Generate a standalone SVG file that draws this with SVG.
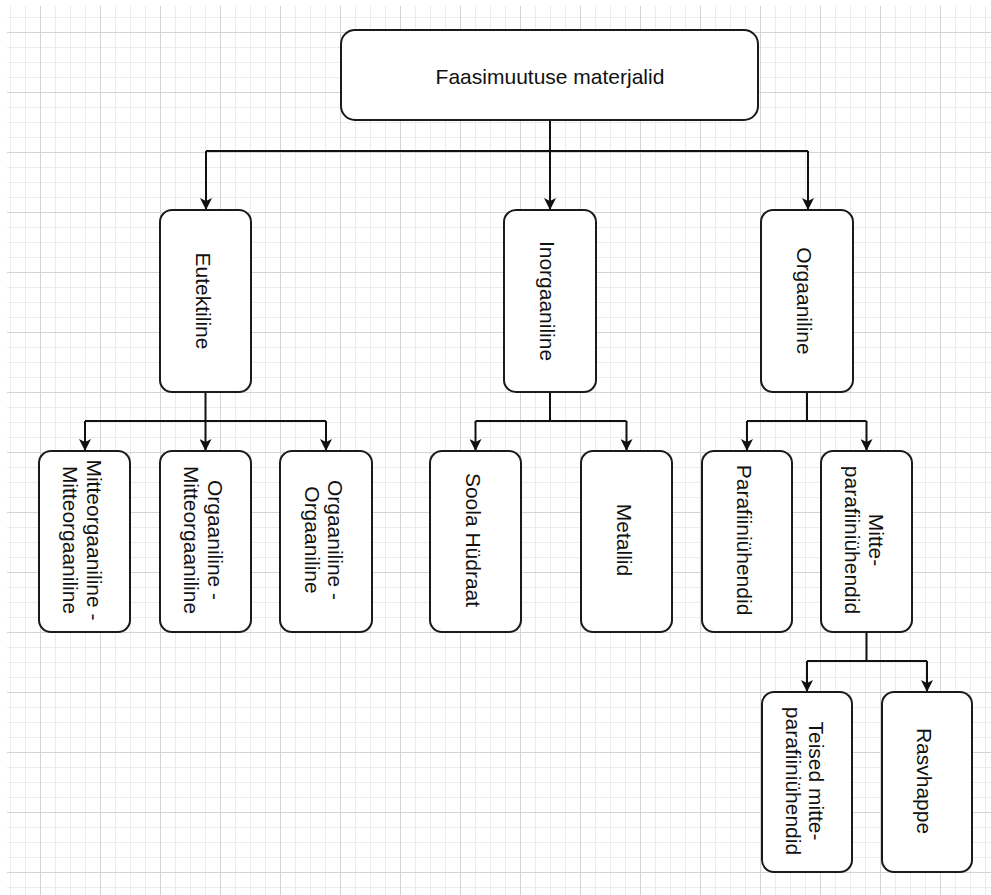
<svg xmlns="http://www.w3.org/2000/svg" width="991" height="895" viewBox="0 0 991 895">
  <defs>
    <style>
      .box { fill: #ffffff; stroke: #1a1a1a; stroke-width: 2; }
      .lbl { font-family: "Liberation Sans", Arial, sans-serif; font-size: 21px; fill: #111111; text-anchor: middle; }
      .edge { fill: none; stroke: #111111; stroke-width: 2; }
      .arr { marker-end: url(#arrow); }
    </style>
    <!-- fine grid: 15px cells -->
    <pattern id="gridMinor" patternUnits="userSpaceOnUse" x="40" y="32" width="15" height="15">
      <path d="M0 0.5H15M0.5 0V15" fill="none" stroke="#ececec" stroke-width="1"/>
    </pattern>
    <!-- coarse grid: 60px cells -->
    <pattern id="gridMajor" patternUnits="userSpaceOnUse" x="40" y="32" width="60" height="60">
      <path d="M0 0.5H60M0.5 0V60" fill="none" stroke="#d4d4d4" stroke-width="1"/>
    </pattern>
    <marker id="arrow" markerUnits="userSpaceOnUse" markerWidth="12" markerHeight="12" refX="12" refY="6" orient="auto">
      <path d="M0,0 L12,6 L0,12 L3,6 z" fill="#111111"/>
    </marker>
  </defs>

  <!-- canvas background -->
  <rect x="0" y="0" width="991" height="895" fill="#ffffff"/>
  <rect x="7" y="6" width="984" height="889" fill="url(#gridMinor)"/>
  <rect x="7" y="6" width="984" height="889" fill="url(#gridMajor)"/>

  <!-- connectors -->
  <g id="connectors">
    <!-- root to first level -->
    <path class="edge" d="M550 120V151M206 151H808"/>
    <path class="edge arr" d="M206 151V210"/>
    <path class="edge arr" d="M550 151V210"/>
    <path class="edge arr" d="M808 151V210"/>
    <!-- Eutektiline children -->
    <path class="edge" d="M205.5 392V421M85 421H326"/>
    <path class="edge arr" d="M85 421V451"/>
    <path class="edge arr" d="M205.5 421V451"/>
    <path class="edge arr" d="M326 421V451"/>
    <!-- Inorgaaniline children -->
    <path class="edge" d="M550 392V421M475.5 421H626.5"/>
    <path class="edge arr" d="M475.5 421V451"/>
    <path class="edge arr" d="M626.5 421V451"/>
    <!-- Orgaaniline children -->
    <path class="edge" d="M807 392V421M747 421H866.5"/>
    <path class="edge arr" d="M747 421V451"/>
    <path class="edge arr" d="M866.5 421V451"/>
    <!-- Mitte-parafiiniühendid children -->
    <path class="edge" d="M866.5 632V661M807 661H927"/>
    <path class="edge arr" d="M807 661V692"/>
    <path class="edge arr" d="M927 661V692"/>
  </g>

  <!-- root -->
  <g id="root">
    <rect class="box" x="341" y="30" width="417" height="90" rx="14"/>
    <text class="lbl" x="550" y="84">Faasimuutuse materjalid</text>
  </g>

  <!-- first level -->
  <g id="eutektiline">
    <rect class="box" x="160" y="210" width="91" height="182" rx="12"/>
    <text class="lbl" transform="translate(205.5 301) rotate(90)" y="10">Eutektiline</text>
  </g>
  <g id="inorgaaniline">
    <rect class="box" x="504" y="210" width="92" height="182" rx="12"/>
    <text class="lbl" transform="translate(550 301) rotate(90)" y="10">Inorgaaniline</text>
  </g>
  <g id="orgaaniline">
    <rect class="box" x="761" y="210" width="92" height="182" rx="12"/>
    <text class="lbl" transform="translate(807 301) rotate(90)" y="10">Orgaaniline</text>
  </g>

  <!-- second level -->
  <g id="mitteorg-mitteorg">
    <rect class="box" x="39" y="451" width="91" height="181" rx="12"/>
    <text class="lbl" transform="translate(84.5 540) rotate(90)"><tspan x="0" y="-2">Mitteorgaaniline -</tspan><tspan x="0" y="21.5">Mitteorgaaniline</tspan></text>
  </g>
  <g id="org-mitteorg">
    <rect class="box" x="160" y="451" width="91" height="181" rx="12"/>
    <text class="lbl" transform="translate(205.5 540) rotate(90)"><tspan x="0" y="-2">Orgaaniline -</tspan><tspan x="0" y="21.5">Mitteorgaaniline</tspan></text>
  </g>
  <g id="org-org">
    <rect class="box" x="280" y="451" width="92" height="181" rx="12"/>
    <text class="lbl" transform="translate(326 540) rotate(90)"><tspan x="0" y="-2">Orgaaniline -</tspan><tspan x="0" y="21.5">Orgaaniline</tspan></text>
  </g>
  <g id="soola-hydraat">
    <rect class="box" x="430" y="451" width="91" height="181" rx="12"/>
    <text class="lbl" transform="translate(475.5 540) rotate(90)" y="10">Soola Hüdraat</text>
  </g>
  <g id="metallid">
    <rect class="box" x="581" y="451" width="91" height="181" rx="12"/>
    <text class="lbl" transform="translate(626.5 540) rotate(90)" y="10">Metallid</text>
  </g>
  <g id="parafiiniyhendid">
    <rect class="box" x="702" y="451" width="90" height="181" rx="12"/>
    <text class="lbl" transform="translate(747 540) rotate(90)" y="10">Parafiiniühendid</text>
  </g>
  <g id="mitte-parafiiniyhendid">
    <rect class="box" x="821" y="451" width="91" height="181" rx="12"/>
    <text class="lbl" transform="translate(866.5 540) rotate(90)"><tspan x="0" y="-2">Mitte-</tspan><tspan x="0" y="21.5">parafiiniühendid</tspan></text>
  </g>

  <!-- third level -->
  <g id="teised">
    <rect class="box" x="762" y="692" width="90" height="180" rx="12"/>
    <text class="lbl" transform="translate(807 781) rotate(90)"><tspan x="0" y="-2">Teised mitte-</tspan><tspan x="0" y="21.5">parafiiniühendid</tspan></text>
  </g>
  <g id="rasvhappe">
    <rect class="box" x="882" y="692" width="90" height="180" rx="12"/>
    <text class="lbl" transform="translate(927 781) rotate(90)" y="10">Rasvhappe</text>
  </g>
</svg>
